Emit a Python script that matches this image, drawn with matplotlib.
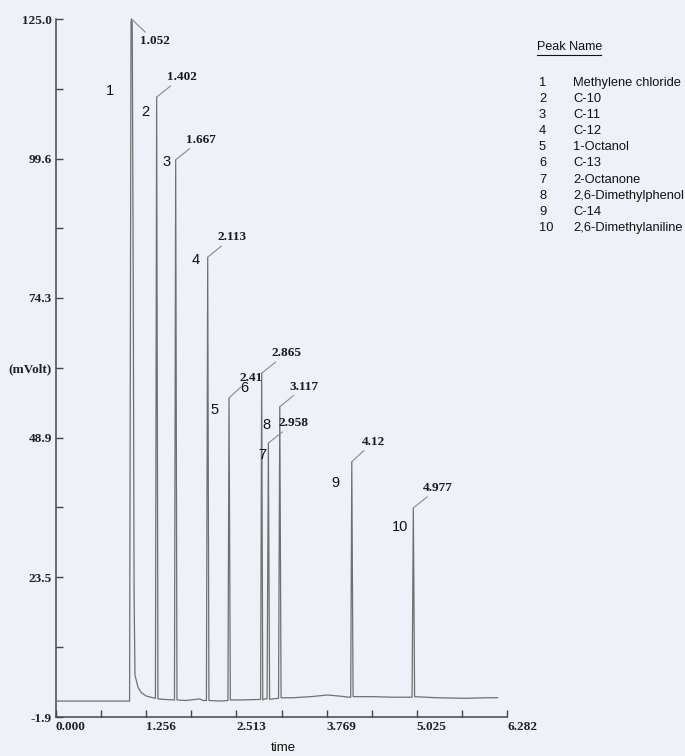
import numpy as np
import matplotlib
matplotlib.use("Agg")
import matplotlib.pyplot as plt
from matplotlib.lines import Line2D

# trace (time [min], signal [mVolt])
trace_t = [0.0, 1.025, 1.035, 1.045, 1.052, 1.062, 1.075, 1.088, 1.10, 1.145, 1.19, 1.26, 1.35,
           1.385, 1.402, 1.42, 1.50, 1.65, 1.667, 1.685, 1.80, 1.95, 2.00, 2.05, 2.095, 2.113,
           2.13, 2.30, 2.395, 2.41, 2.428, 2.60, 2.85, 2.865, 2.88, 2.91, 2.94, 2.958, 2.975,
           3.02, 3.10, 3.117, 3.135, 3.30, 3.55, 3.78, 3.95, 4.08, 4.105, 4.12, 4.138, 4.40,
           4.70, 4.96, 4.977, 4.995, 5.30, 5.70, 6.00, 6.15]
trace_mv = [1.0, 1.0, 60.0, 124.6, 125.0, 124.2, 80.0, 20.0, 5.7, 3.4, 2.5, 1.9, 1.6,
            1.5, 110.8, 1.4, 1.3, 1.2, 99.4, 1.2, 1.1, 1.3, 1.4, 1.1, 1.1, 81.7,
            1.1, 1.0, 1.1, 56.1, 1.2, 1.2, 1.3, 60.6, 1.2, 1.4, 1.4, 47.9, 1.3,
            1.4, 1.5, 54.5, 1.6, 1.6, 1.8, 2.1, 1.9, 1.7, 1.7, 44.5, 1.8, 1.8,
            1.7, 1.7, 36.1, 1.8, 1.6, 1.5, 1.6, 1.6]

# peaks
peak_num = [1, 2, 3, 4, 5, 6, 7, 8, 9, 10]
peak_rt = [1.052, 1.402, 1.667, 2.113, 2.41, 2.865, 2.958, 3.117, 4.12, 4.977]
peak_rt_lbl = ["1.052", "1.402", "1.667", "2.113", "2.41", "2.865", "2.958", "3.117", "4.12", "4.977"]
peak_height = [125.0, 110.8, 99.4, 81.7, 56.1, 60.6, 47.9, 54.5, 44.5, 36.1]
peak_names = ["Methylene chloride", "C-10", "C-11", "C-12", "1-Octanol", "C-13",
              "2-Octanone", "2,6-Dimethylphenol", "C-14", "2,6-Dimethylaniline"]

x_ticks = [0.000, 1.256, 2.513, 3.769, 5.025, 6.282]
y_ticks = [-1.9, 23.5, 48.9, 61.6, 74.3, 99.6, 125.0]
y_tick_lbl = ["-1.9", "23.5", "48.9", "(mVolt)", "74.3", "99.6", "125.0"]

W, H = 685, 756
bg = "#eef1f7"
axis_col = "#454545"
trace_col = "#707070"
serif_bold = dict(family="Liberation Serif", weight="bold", size=9.5)
sans = "Liberation Sans"

fig = plt.figure(figsize=(W / 100, H / 100), dpi=100, facecolor=bg)
ax = fig.add_axes([56 / W, 1 - 717 / H, (507 - 56) / W, (717 - 19) / H])
ax.set_facecolor(bg)

ax.plot(trace_t, trace_mv, color=trace_col, lw=0.9, clip_on=False, zorder=3)

ax.set_xlim(0, 6.282)
ax.set_ylim(-1.9, 125.0)
for s in ["top", "right"]:
    ax.spines[s].set_visible(False)
for s in ["left", "bottom"]:
    ax.spines[s].set_color(axis_col)
    ax.spines[s].set_linewidth(1.1)

ax.set_xticks(x_ticks)
ax.set_xticklabels(["%.3f" % v for v in x_ticks], fontdict=serif_bold)
for lb in ax.get_xticklabels():
    lb.set_ha("left")
ax.set_xticks([(x_ticks[i] + x_ticks[i + 1]) / 2 for i in range(len(x_ticks) - 1)], minor=True)
ax.set_yticks(y_ticks)
ax.set_yticklabels(y_tick_lbl, fontdict=serif_bold)
ax.set_yticks([10.8, 36.2, 87.0, 112.3], minor=True)
ax.tick_params(which="both", direction="in", length=5, width=1, color=axis_col, labelcolor="#222222")
ax.tick_params(axis="x", pad=3)
ax.tick_params(axis="y", pad=3)

# retention time labels with leader lines
lead = {1: (8, -16)}
for n, rt, lbl, h in zip(peak_num, peak_rt, peak_rt_lbl, peak_height):
    dx, dy = lead.get(n, (10, 14))
    va = "top" if dy < 0 else "bottom"
    ax.annotate(lbl, xy=(rt, h), xytext=(dx, dy), textcoords="offset pixels",
                ha="left", va=va, color="#1a1a1a",
                family="Liberation Serif", weight="bold", size=9.5,
                arrowprops=dict(arrowstyle="-", color="#8a8a8a", lw=0.8,
                                shrinkA=0, shrinkB=0),
                annotation_clip=False)

# peak numbers next to each peak
num_off = {1: (-22, -72), 2: (-11, -15), 3: (-9, -2), 4: (-12, -3), 5: (-15, -12),
           6: (-17, -15), 7: (-6, -12), 8: (-13, -18), 9: (-16, -21), 10: (-13, -19)}
for n, rt, h in zip(peak_num, peak_rt, peak_height):
    ox, oy = num_off[n]
    ax.annotate(str(n), xy=(rt, h), xytext=(ox, oy), textcoords="offset pixels",
                ha="center", va="center", family=sans, size=10.5, color="#111111",
                annotation_clip=False)

fig.text(283 / W, 1 - 748 / H, "time", ha="center", va="center", family=sans, size=9.5,
         color="#111111")

# peak name table on the right
fig.text(537 / W, 1 - 47 / H, "Peak Name", ha="left", va="center", family=sans, size=9,
         color="#111111")
fig.add_artist(Line2D([537 / W, 601 / W], [1 - 55 / H, 1 - 55 / H], color="#111111", lw=0.8))
for i, (n, name) in enumerate(zip(peak_num, peak_names)):
    y = 1 - (83 + i * 16.1) / H
    fig.text(539 / W, y, str(n), ha="left", va="center", family=sans, size=9.3, color="#111111")
    fig.text(573 / W, y, name, ha="left", va="center", family=sans, size=9.3, color="#111111")

fig.savefig("out.png", dpi=100, facecolor=bg)
